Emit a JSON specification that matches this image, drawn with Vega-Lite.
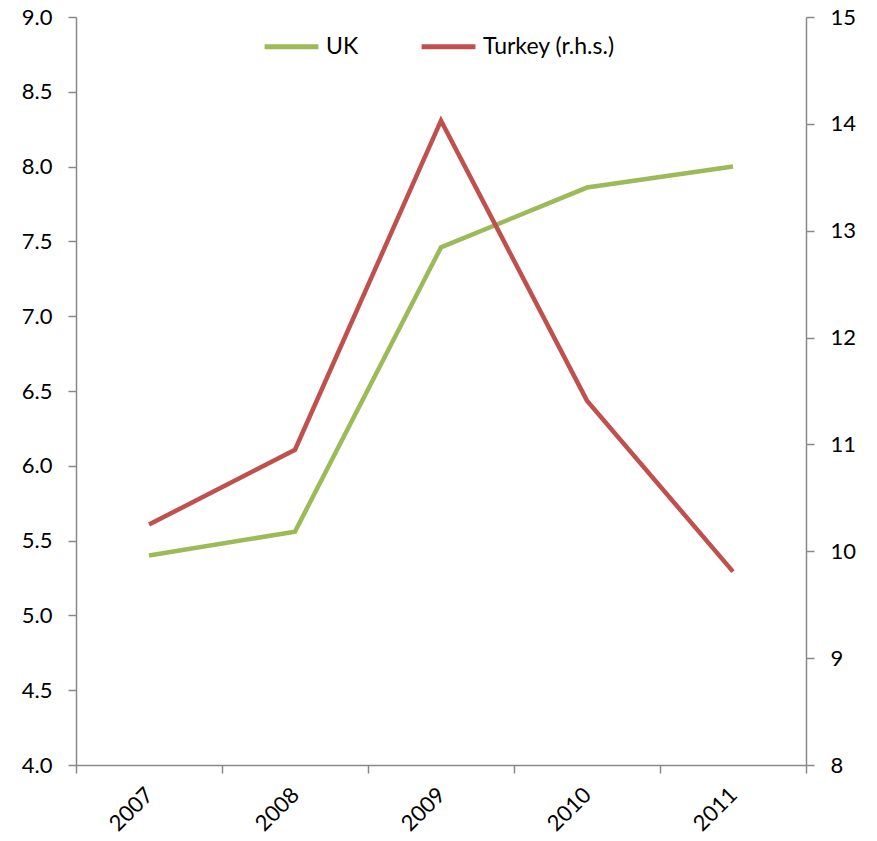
{
  "$schema": "https://vega.github.io/schema/vega-lite/v6.json",
  "autosize": "none",
  "padding": {"left": 76, "top": 17, "right": 71, "bottom": 76},
  "width": 730,
  "height": 748,
  "background": "white",
  "config": {
    "view": {"stroke": null},
    "font": "Lato",
    "axis": {
      "grid": false,
      "domainColor": "#888888",
      "tickColor": "#888888",
      "domainWidth": 1.5,
      "tickWidth": 1.5,
      "tickSize": 8,
      "labelFont": "Lato",
      "labelFontSize": 22,
      "labelColor": "#000000",
      "title": null
    },
    "legend": {
      "labelFont": "Lato",
      "labelFontSize": 23,
      "labelColor": "#000000"
    }
  },
  "data": {
    "values": [
      {"year": 2007, "series": "UK", "value": 5.40},
      {"year": 2008, "series": "UK", "value": 5.56},
      {"year": 2009, "series": "UK", "value": 7.46},
      {"year": 2010, "series": "UK", "value": 7.86},
      {"year": 2011, "series": "UK", "value": 8.00},
      {"year": 2007, "series": "Turkey (r.h.s.)", "value": 10.25},
      {"year": 2008, "series": "Turkey (r.h.s.)", "value": 10.95},
      {"year": 2009, "series": "Turkey (r.h.s.)", "value": 14.03},
      {"year": 2010, "series": "Turkey (r.h.s.)", "value": 11.41},
      {"year": 2011, "series": "Turkey (r.h.s.)", "value": 9.81}
    ]
  },
  "encoding": {
    "x": {
      "field": "year",
      "type": "quantitative",
      "scale": {"domain": [2006.5, 2011.5], "nice": false, "zero": false},
      "axis": {
        "values": [2006.5, 2007.5, 2008.5, 2009.5, 2010.5, 2011.5],
        "labelExpr": "datum.value > 2011 ? '' : format(datum.value + 0.5, 'd')",
        "labelAngle": -45,
        "labelAlign": "right",
        "labelBaseline": "middle",
        "labelOffset": 73,
        "labelPadding": 18,
        "labelFlush": false,
        "labelOverlap": false
      }
    },
    "color": {
      "field": "series",
      "type": "nominal",
      "scale": {"domain": ["UK", "Turkey (r.h.s.)"], "range": ["#9BBB59", "#C0504D"]},
      "legend": {
        "title": null,
        "orient": "none",
        "direction": "horizontal",
        "legendX": 186,
        "legendY": 0,
        "symbolType": "stroke",
        "symbolSize": 2900,
        "symbolStrokeWidth": 5,
        "labelOffset": 5,
        "columnPadding": 52
      }
    }
  },
  "layer": [
    {
      "transform": [{"filter": "datum.series === 'UK'"}],
      "mark": {"type": "line", "strokeWidth": 4.5},
      "encoding": {
        "y": {
          "field": "value",
          "type": "quantitative",
          "scale": {"domain": [4, 9], "nice": false, "zero": false},
          "axis": {
            "orient": "left",
            "values": [4, 4.5, 5, 5.5, 6, 6.5, 7, 7.5, 8, 8.5, 9],
            "format": ".1f",
            "labelPadding": 16
          }
        }
      }
    },
    {
      "transform": [{"filter": "datum.series === 'Turkey (r.h.s.)'"}],
      "mark": {"type": "line", "strokeWidth": 4.5},
      "encoding": {
        "y": {
          "field": "value",
          "type": "quantitative",
          "scale": {"domain": [8, 15], "nice": false, "zero": false},
          "axis": {
            "orient": "right",
            "values": [8, 9, 10, 11, 12, 13, 14, 15],
            "format": "d",
            "labelPadding": 16
          }
        }
      }
    }
  ],
  "resolve": {"scale": {"y": "independent"}}
}
